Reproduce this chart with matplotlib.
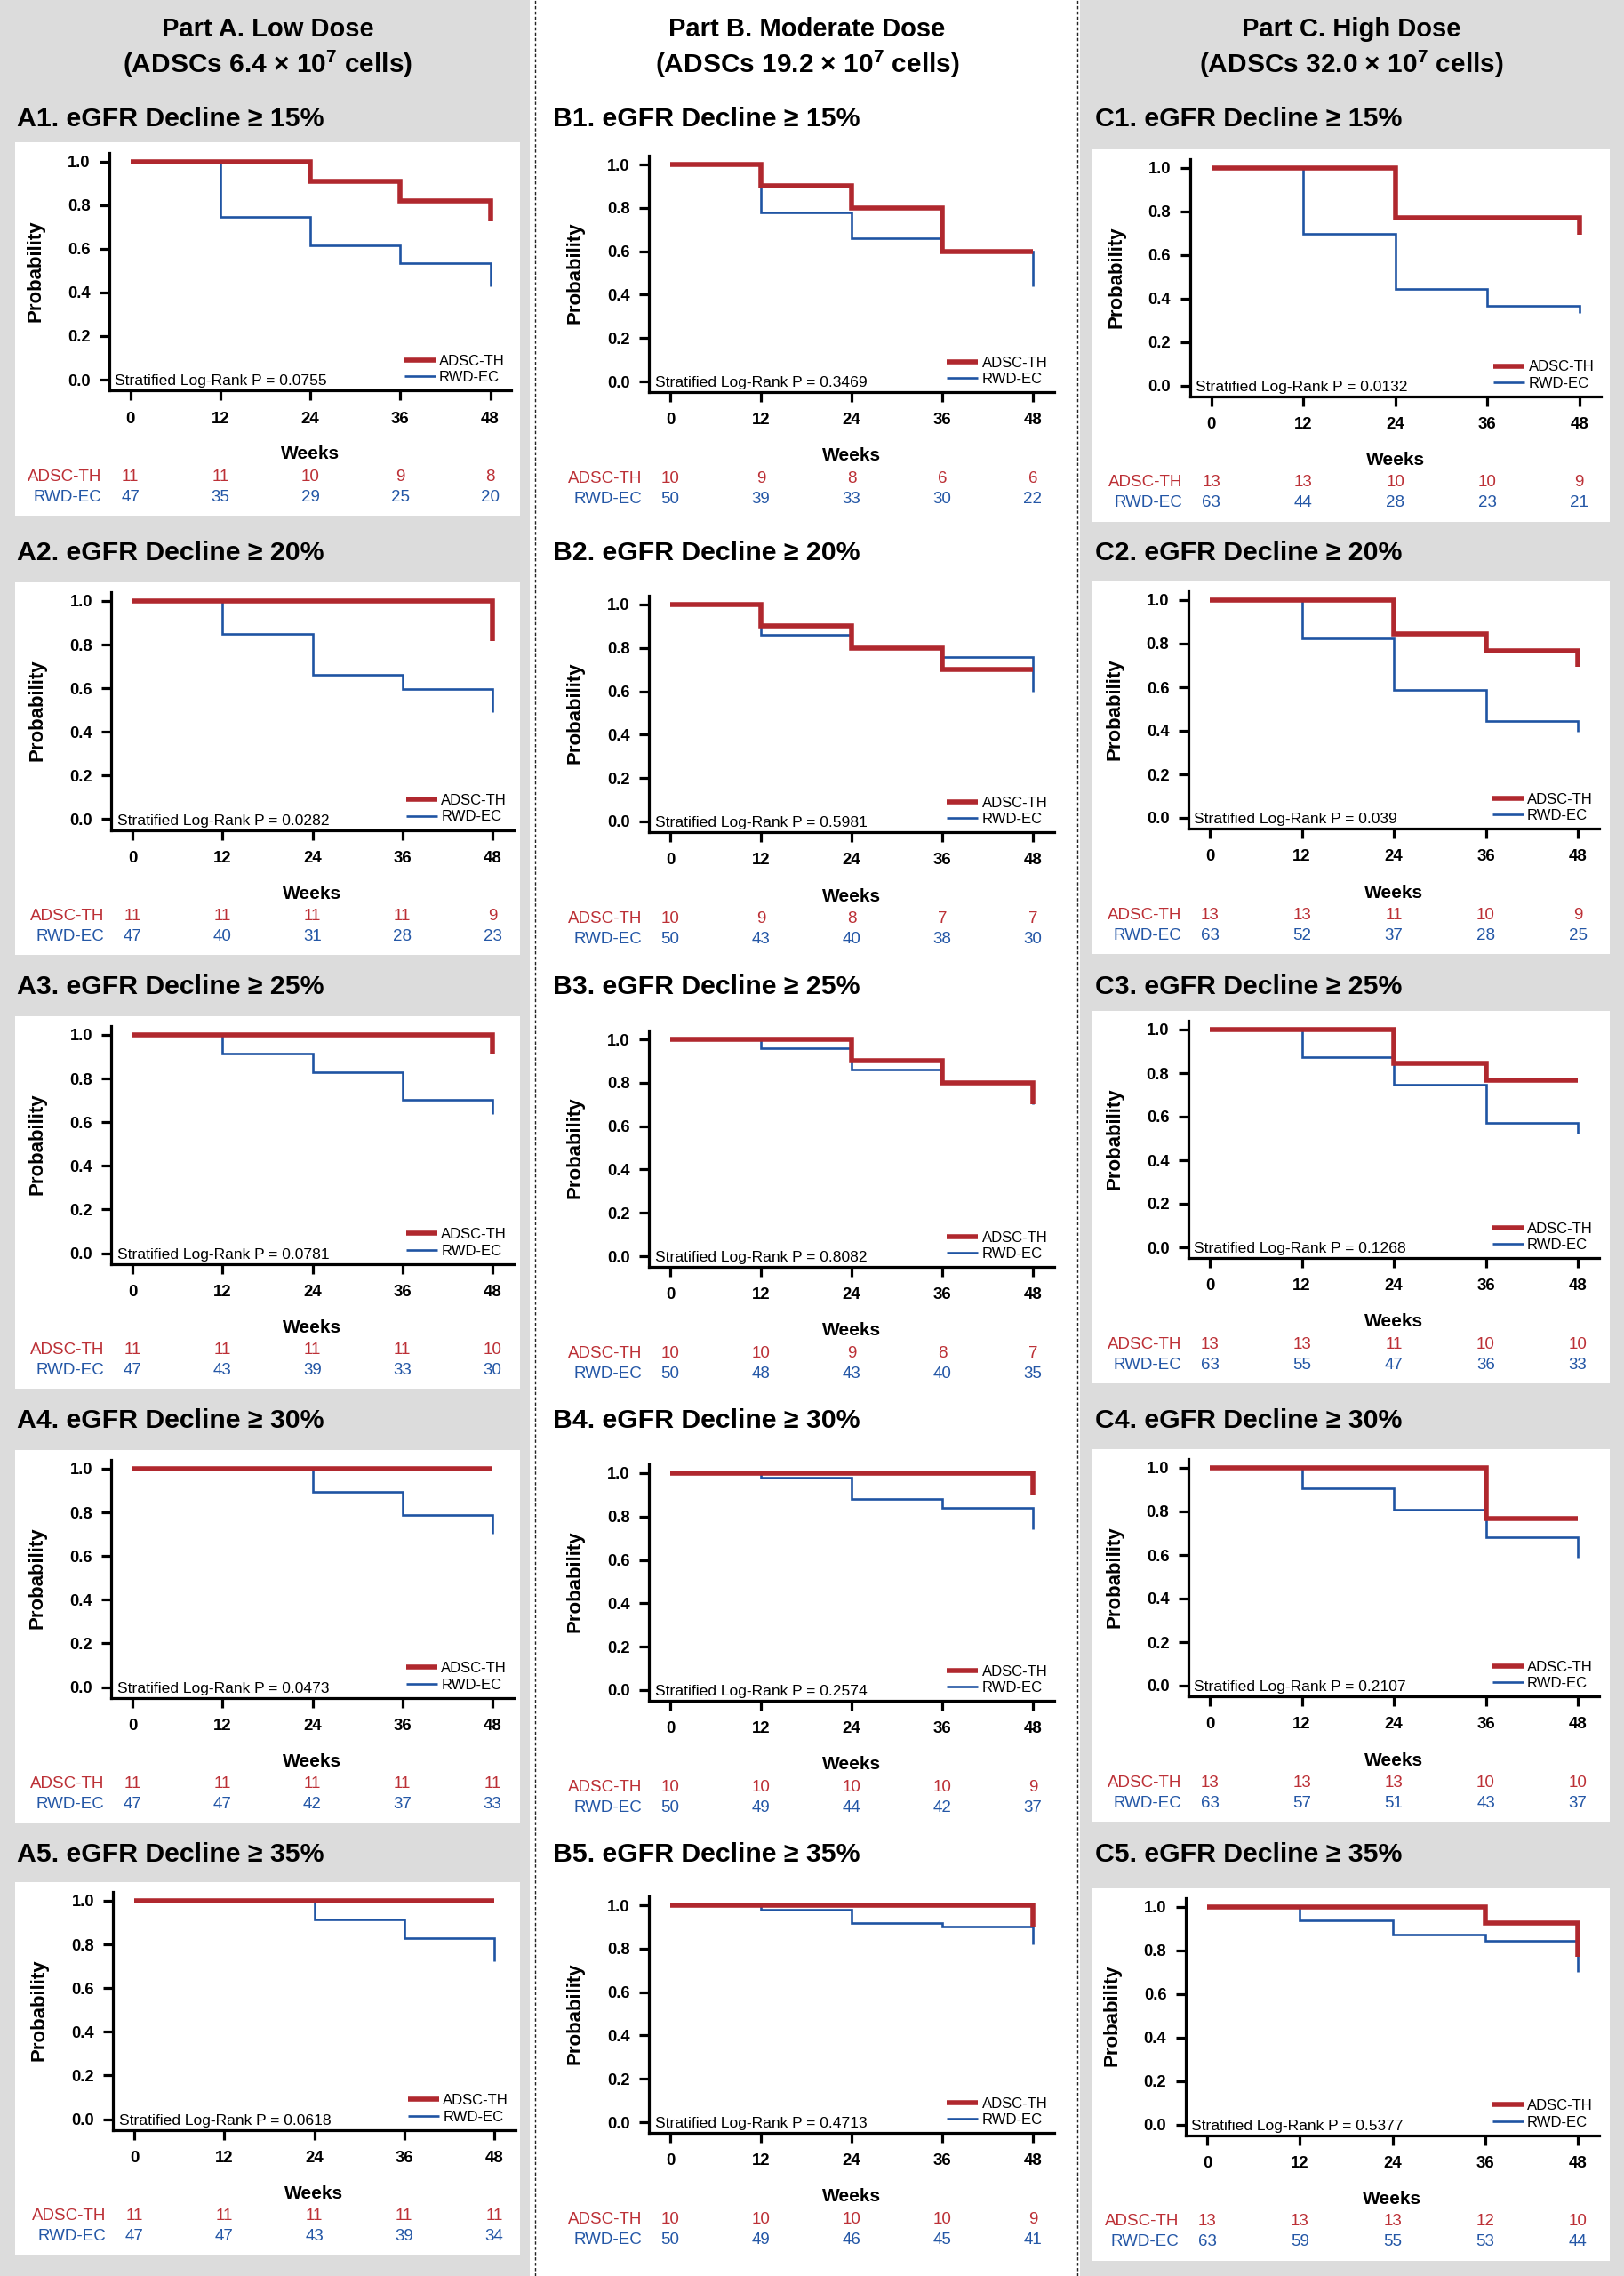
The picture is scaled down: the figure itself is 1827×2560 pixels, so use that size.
import matplotlib
matplotlib.use('Agg')
import matplotlib.pyplot as plt
from matplotlib.patches import Rectangle
from matplotlib.lines import Line2D

plt.rcParams['font.family'] = ['Liberation Sans', 'DejaVu Sans']
plt.rcParams['mathtext.default'] = 'regular'

# ------------------------------------------------------------------ data
weeks = [0, 12, 24, 36, 48]
yticks = [0.0, 0.2, 0.4, 0.6, 0.8, 1.0]
ytick_labels = ['0.0', '0.2', '0.4', '0.6', '0.8', '1.0']
groups = ['ADSC-TH', 'RWD-EC']
thresholds = [15, 20, 25, 30, 35]
col_letters = ['A', 'B', 'C']
col_head1 = ['Part A. Low Dose', 'Part B. Moderate Dose', 'Part C. High Dose']
col_head2 = ['(ADSCs 6.4 × 10$^{7}$ cells)', '(ADSCs 19.2 × 10$^{7}$ cells)',
             '(ADSCs 32.0 × 10$^{7}$ cells)']

# Part A (low dose)
A_th_risk = [[11, 11, 10, 9, 8], [11, 11, 11, 11, 9], [11, 11, 11, 11, 10],
             [11, 11, 11, 11, 11], [11, 11, 11, 11, 11]]
A_ec_risk = [[47, 35, 29, 25, 20], [47, 40, 31, 28, 23], [47, 43, 39, 33, 30],
             [47, 47, 42, 37, 33], [47, 47, 43, 39, 34]]
A_th_surv = [[1.0, 1.0, 0.909, 0.818, 0.727], [1.0, 1.0, 1.0, 1.0, 0.818],
             [1.0, 1.0, 1.0, 1.0, 0.909], [1.0, 1.0, 1.0, 1.0, 1.0],
             [1.0, 1.0, 1.0, 1.0, 1.0]]
A_ec_surv = [[1.0, 0.745, 0.617, 0.532, 0.426], [1.0, 0.851, 0.660, 0.596, 0.489],
             [1.0, 0.915, 0.830, 0.702, 0.638], [1.0, 1.0, 0.894, 0.787, 0.702],
             [1.0, 1.0, 0.915, 0.830, 0.723]]
A_p = ['0.0755', '0.0282', '0.0781', '0.0473', '0.0618']

# Part B (moderate dose)
B_th_risk = [[10, 9, 8, 6, 6], [10, 9, 8, 7, 7], [10, 10, 9, 8, 7],
             [10, 10, 10, 10, 9], [10, 10, 10, 10, 9]]
B_ec_risk = [[50, 39, 33, 30, 22], [50, 43, 40, 38, 30], [50, 48, 43, 40, 35],
             [50, 49, 44, 42, 37], [50, 49, 46, 45, 41]]
B_th_surv = [[1.0, 0.9, 0.8, 0.6, 0.6], [1.0, 0.9, 0.8, 0.7, 0.7],
             [1.0, 1.0, 0.9, 0.8, 0.7], [1.0, 1.0, 1.0, 1.0, 0.9],
             [1.0, 1.0, 1.0, 1.0, 0.9]]
B_ec_surv = [[1.0, 0.78, 0.66, 0.60, 0.44], [1.0, 0.86, 0.80, 0.76, 0.60],
             [1.0, 0.96, 0.86, 0.80, 0.70], [1.0, 0.98, 0.88, 0.84, 0.74],
             [1.0, 0.98, 0.92, 0.90, 0.82]]
B_p = ['0.3469', '0.5981', '0.8082', '0.2574', '0.4713']

# Part C (high dose)
C_th_risk = [[13, 13, 10, 10, 9], [13, 13, 11, 10, 9], [13, 13, 11, 10, 10],
             [13, 13, 13, 10, 10], [13, 13, 13, 12, 10]]
C_ec_risk = [[63, 44, 28, 23, 21], [63, 52, 37, 28, 25], [63, 55, 47, 36, 33],
             [63, 57, 51, 43, 37], [63, 59, 55, 53, 44]]
C_th_surv = [[1.0, 1.0, 0.769, 0.769, 0.692], [1.0, 1.0, 0.846, 0.769, 0.692],
             [1.0, 1.0, 0.846, 0.769, 0.769], [1.0, 1.0, 1.0, 0.769, 0.769],
             [1.0, 1.0, 1.0, 0.923, 0.769]]
C_ec_surv = [[1.0, 0.698, 0.444, 0.365, 0.333], [1.0, 0.825, 0.587, 0.444, 0.397],
             [1.0, 0.873, 0.746, 0.571, 0.524], [1.0, 0.905, 0.810, 0.683, 0.587],
             [1.0, 0.937, 0.873, 0.841, 0.698]]
C_p = ['0.0132', '0.039', '0.1268', '0.2107', '0.5377']

th_risk = [A_th_risk, B_th_risk, C_th_risk]
ec_risk = [A_ec_risk, B_ec_risk, C_ec_risk]
th_surv = [A_th_surv, B_th_surv, C_th_surv]
ec_surv = [A_ec_surv, B_ec_surv, C_ec_surv]
pvals = [A_p, B_p, C_p]

# ------------------------------------------------------------------ style / layout
RED = '#B0282E'
BLUE = '#1F54A3'
RED_TXT = '#BC3036'
BLUE_TXT = '#2457A6'
GRAY = '#DCDCDC'
W, H = 1827, 2560

title_y = [131, 619, 1107, 1595, 2083]
col_title_x = [19, 622, 1232]
col_center = [301, 908, 1520]
# per column, per row: x of week 0, pixel span of 0..48 weeks, offset of y=1.0 from title, unit height
geo_x0 = [[146.6, 149, 149, 149, 151], [754] * 5, [1362.7, 1361, 1361, 1361, 1358]]
geo_span = [[405] * 5, [408] * 5, [414, 414, 414, 414, 417]]
geo_y1 = [[50.5, 57, 57, 57, 55], [54, 61, 62, 62, 60], [57.7, 56, 51, 56, 61.5]]
geo_unit = [245.5, 244, 245]
box_x = {0: (17, 585), 2: (1229, 1811)}

XLO, XHI = -2.8, 50.8
YLO, YHI = -0.049, 1.039

fig = plt.figure(figsize=(W / 100, H / 100), dpi=100)
fig.patch.set_facecolor('white')


def fx(px):
    return px / W


def fy(py):
    return 1 - py / H


# column backgrounds
fig.add_artist(Rectangle((0, 0), fx(596), 1, transform=fig.transFigure,
                         facecolor=GRAY, edgecolor='none', zorder=-3))
fig.add_artist(Rectangle((fx(1215), 0), 1 - fx(1215), 1, transform=fig.transFigure,
                         facecolor=GRAY, edgecolor='none', zorder=-3))
for xd in (602, 1212):
    fig.add_artist(Line2D([fx(xd), fx(xd)], [0, 1], transform=fig.transFigure,
                          color='#222222', lw=1.0, dashes=(2.5, 1.8), zorder=-1))

# column headers
for ci in range(3):
    fig.text(fx(col_center[ci]), fy(41), col_head1[ci], ha='center', va='baseline',
             fontsize=21, fontweight='bold')
    fig.text(fx(col_center[ci]), fy(82), col_head2[ci], ha='center', va='baseline',
             fontsize=21.5, fontweight='bold')

for ci in range(3):
    for r in range(5):
        T = title_y[r]
        x0 = geo_x0[ci][r]
        span = geo_span[ci][r]
        unit = geo_unit[ci]
        y1 = T + geo_y1[ci][r]
        y0 = y1 + unit
        s = span / 48.0

        # white panel box (columns A and C)
        if ci in box_x:
            bx0, bx1 = box_x[ci]
            btop = y1 - 21
            bh = 419
            fig.add_artist(Rectangle((fx(bx0), fy(btop + bh)), fx(bx1 - bx0), bh / H,
                                     transform=fig.transFigure, facecolor='white',
                                     edgecolor='none', zorder=-2))

        # panel title
        fig.text(fx(col_title_x[ci]), fy(T + 10.6),
                 f'{col_letters[ci]}{r + 1}. eGFR Decline \u2265 {thresholds[r]}%',
                 ha='left', va='baseline', fontsize=21.8, fontweight='bold')

        left = x0 + XLO * s
        right = x0 + XHI * s
        top = y1 - (YHI - 1.0) * unit
        bottom = y0 - YLO * unit
        ax = fig.add_axes([fx(left), fy(bottom), (right - left) / W, (bottom - top) / H])
        ax.set_facecolor('none')
        ax.set_xlim(XLO, XHI)
        ax.set_ylim(YLO, YHI)
        for sp in ('top', 'right'):
            ax.spines[sp].set_visible(False)
        for sp in ('left', 'bottom'):
            ax.spines[sp].set_linewidth(2.3)
        ax.tick_params(axis='both', direction='out', length=7.9, width=2.3, color='black')
        ax.tick_params(axis='x', pad=9)
        ax.tick_params(axis='y', pad=7.5)
        ax.set_xticks(weeks, labels=[str(w) for w in weeks], fontsize=13.4, fontweight='bold')
        ax.set_yticks(yticks, labels=ytick_labels, fontsize=13.2, fontweight='bold')

        l_ec, = ax.plot(weeks, ec_surv[ci][r], drawstyle='steps-post', color=BLUE, lw=1.9,
                        solid_joinstyle='miter', solid_capstyle='butt', zorder=2,
                        label=groups[1])
        l_th, = ax.plot(weeks, th_surv[ci][r], drawstyle='steps-post', color=RED, lw=4.0,
                        solid_joinstyle='miter', solid_capstyle='butt', zorder=3,
                        label=groups[0])

        ax.text(-2.05, -0.025, f'Stratified Log-Rank P = {pvals[ci][r]}', ha='left',
                va='baseline', fontsize=12.6)

        lx = (1.04 * span - XLO * s) / ((XHI - XLO) * s)
        ly = ((-YLO) * unit - 5) / ((YHI - YLO) * unit)
        ax.legend(handles=[l_th, l_ec], loc='lower right', bbox_to_anchor=(lx, ly),
                  bbox_transform=ax.transAxes, frameon=False, fontsize=12,
                  handlelength=2.1, handletextpad=0.25, labelspacing=0.2,
                  borderpad=0, borderaxespad=0)

        # axis labels
        fig.text(fx(x0 - 107), fy((y1 + y0) / 2), 'Probability', rotation=90,
                 ha='center', va='center', fontsize=16, fontweight='bold')
        fig.text(fx(x0 + span / 2), fy(y0 + 89.5), 'Weeks', ha='center', va='baseline',
                 fontsize=15, fontweight='bold')

        # numbers at risk
        for gi, (risk, colr) in enumerate(((th_risk, RED_TXT), (ec_risk, BLUE_TXT))):
            yb = y0 + 113.7 + gi * 23
            fig.text(fx(x0 - 32), fy(yb), groups[gi], ha='right', va='baseline',
                     fontsize=13.5, color=colr)
            for wk, n in zip(weeks, risk[ci][r]):
                fig.text(fx(x0 + wk * s), fy(yb), str(n), ha='center', va='baseline',
                         fontsize=13.5, color=colr)

fig.savefig('out.png', dpi=100)
